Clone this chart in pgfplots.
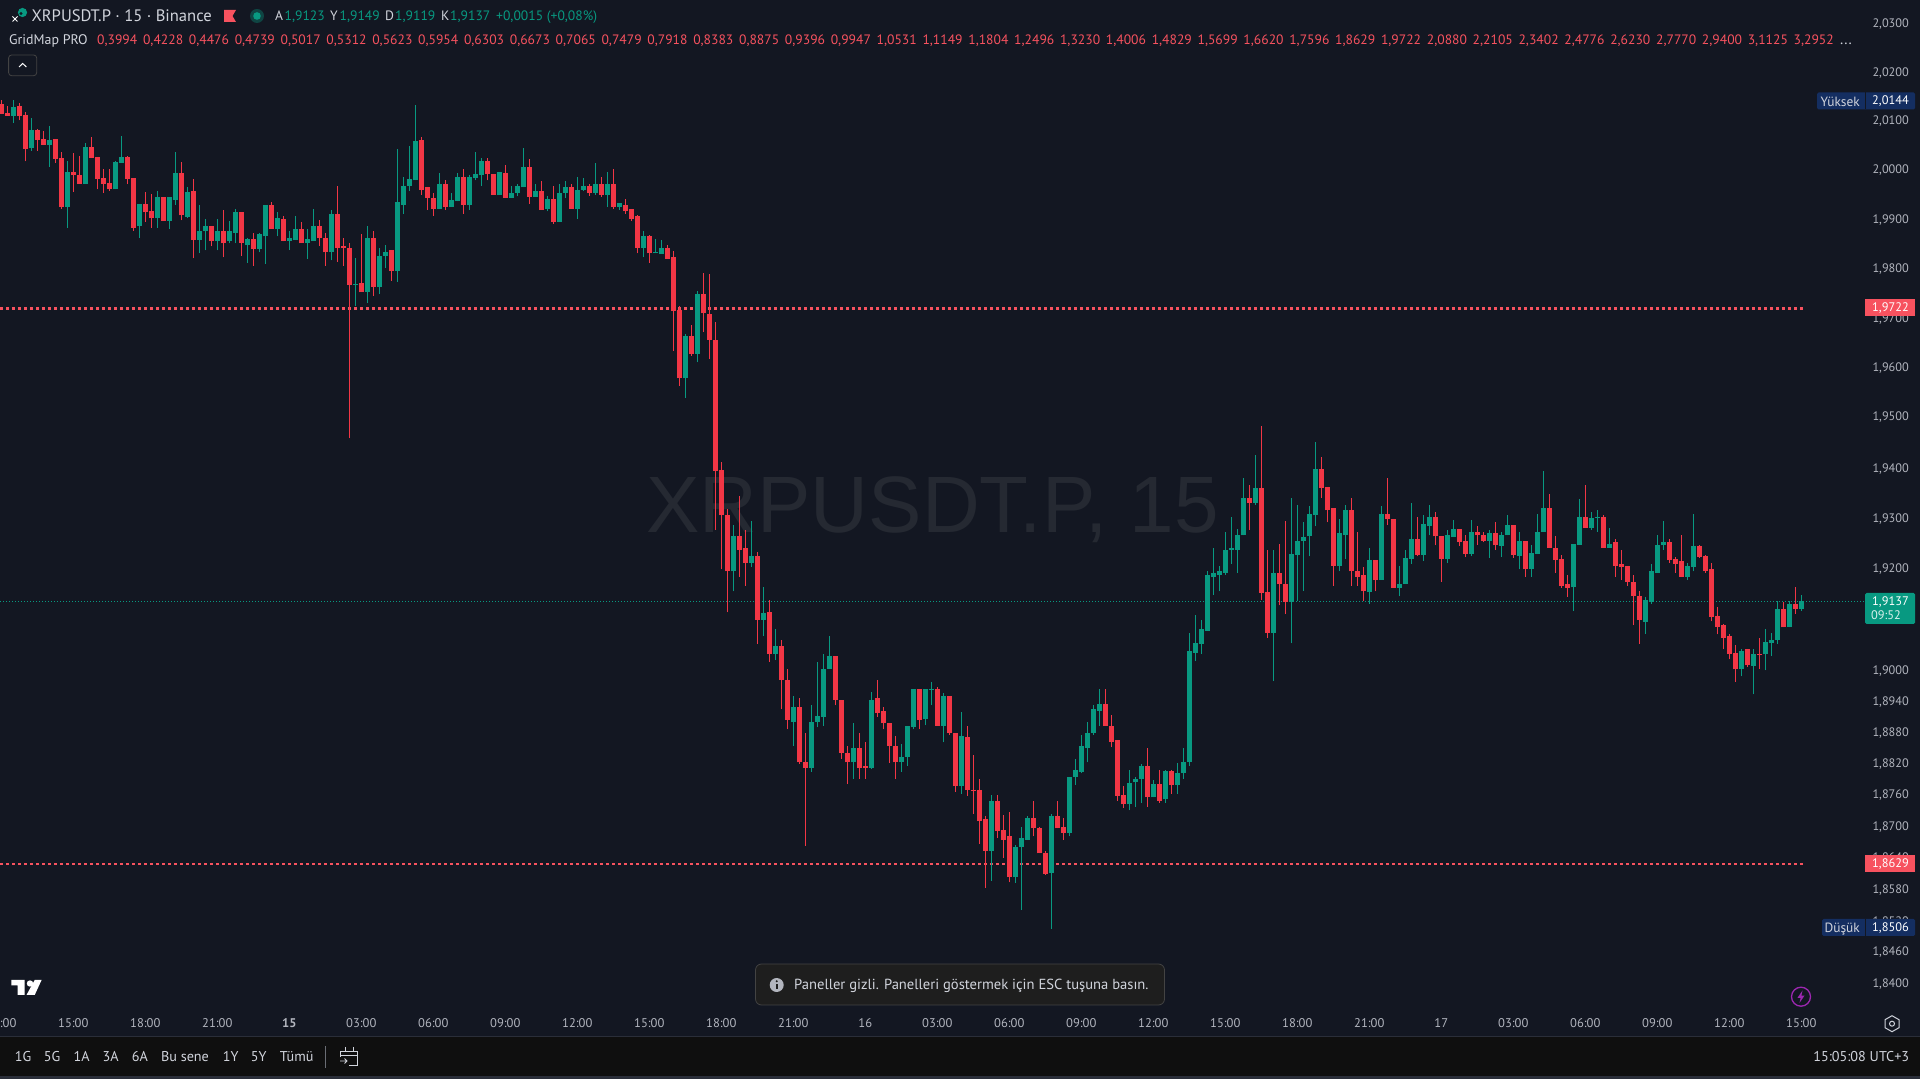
\documentclass[border=0pt]{standalone}
\usepackage{fontspec}
\usepackage{pgfplots}
\usepackage{pgfplotstable}
\pgfplotsset{compat=1.18}
\setmainfont{PT Sans}
\newfontfamily\wmfont{Liberation Sans}
\definecolor{bg}{HTML}{131722}
\definecolor{upc}{HTML}{089981}
\definecolor{downc}{HTML}{F23645}
\definecolor{lblred}{HTML}{F7525F}
\definecolor{ticktxt}{HTML}{B2B5BE}
\definecolor{maintxt}{HTML}{D1D4DC}
\definecolor{navy}{HTML}{142E61}
\definecolor{barbg}{HTML}{0F0F0F}
\definecolor{wmark}{HTML}{252932}
\definecolor{toastbg}{HTML}{1E1E1E}
\definecolor{toastln}{HTML}{434343}
\definecolor{sepln}{HTML}{2A2E39}
\definecolor{bolt}{HTML}{9C27B0}

% 15 minute candles: index, open, high, low, close
\pgfplotstableread{
i o h l c
0 2.0135 2.0143 2.0114 2.0114
1 2.0117 2.0130 2.0111 2.0111
2 2.0111 2.0143 2.0096 2.0129
3 2.0132 2.0137 2.0101 2.0111
4 2.0113 2.0119 2.0017 2.0043
5 2.0044 2.0106 2.0039 2.0082
6 2.0082 2.0084 2.0039 2.0061
7 2.0063 2.0080 2.0050 2.0051
8 2.0051 2.0091 2.0006 2.0061
9 2.0062 2.0063 2.0014 2.0022
10 2.0024 2.0036 1.9922 1.9928
11 1.9928 2.0017 1.9886 1.9997
12 1.9997 2.0034 1.9957 1.9991
13 1.9991 2.0029 1.9973 1.9973
14 1.9973 2.0054 1.9973 2.0047
15 2.0047 2.0068 2.0024 2.0024
16 2.0026 2.0026 1.9964 1.9983
17 1.9985 2.0002 1.9956 1.9975
18 1.9977 2.0002 1.9961 1.9963
19 1.9964 2.0019 1.9963 2.0016
20 2.0014 2.0069 2.0014 2.0026
21 2.0026 2.0029 1.9974 1.9983
22 1.9985 1.9985 1.9879 1.9886
23 1.9888 1.9935 1.9862 1.9935
24 1.9935 1.9957 1.9895 1.9916
25 1.9918 1.9953 1.9886 1.9904
26 1.9904 1.9959 1.9886 1.9947
27 1.9947 1.9947 1.9898 1.9898
28 1.9898 1.9945 1.9880 1.9945
29 1.9943 2.0037 1.9930 1.9995
30 1.9995 2.0016 1.9900 1.9908
31 1.9906 1.9967 1.9904 1.9957
32 1.9959 1.9983 1.9822 1.9861
33 1.9861 1.9930 1.9833 1.9878
34 1.9876 1.9902 1.9837 1.9888
35 1.9888 1.9890 1.9845 1.9857
36 1.9855 1.9902 1.9838 1.9878
37 1.9878 1.9920 1.9825 1.9853
38 1.9855 1.9898 1.9853 1.9876
39 1.9874 1.9922 1.9853 1.9916
40 1.9916 1.9916 1.9829 1.9851
41 1.9849 1.9863 1.9815 1.9859
42 1.9859 1.9873 1.9807 1.9841
43 1.9841 1.9873 1.9835 1.9872
44 1.9867 1.9930 1.9811 1.9930
45 1.9930 1.9937 1.9880 1.9882
46 1.9882 1.9916 1.9867 1.9904
47 1.9902 1.9910 1.9855 1.9857
48 1.9857 1.9876 1.9839 1.9863
49 1.9861 1.9907 1.9861 1.9882
50 1.9880 1.9894 1.9851 1.9853
51 1.9853 1.9880 1.9819 1.9859
52 1.9857 1.9924 1.9857 1.9890
53 1.9890 1.9900 1.9847 1.9863
54 1.9865 1.9873 1.9807 1.9835
55 1.9835 1.9920 1.9817 1.9914
56 1.9914 1.9969 1.9813 1.9843
57 1.9845 1.9865 1.9807 1.9843
58 1.9843 1.9853 1.9460 1.9768
59 1.9768 1.9821 1.9725 1.9770
60 1.9772 1.9870 1.9752 1.9754
61 1.9753 1.9890 1.9733 1.9863
62 1.9863 1.9878 1.9746 1.9764
63 1.9764 1.9842 1.9751 1.9829
64 1.9827 1.9849 1.9804 1.9835
65 1.9837 1.9837 1.9776 1.9796
66 1.9796 2.0043 1.9773 1.9937
67 1.9932 1.9989 1.9913 1.9971
68 1.9971 2.0049 1.9960 1.9983
69 1.9981 2.0133 1.9981 2.0059
70 2.0061 2.0066 1.9952 1.9962
71 1.9967 1.9967 1.9920 1.9944
72 1.9946 1.9954 1.9909 1.9922
73 1.9922 1.9995 1.9922 1.9973
74 1.9973 1.9981 1.9920 1.9928
75 1.9926 1.9954 1.9926 1.9940
76 1.9938 1.9996 1.9938 1.9989
77 1.9989 2.0001 1.9913 1.9930
78 1.9930 1.9991 1.9920 1.9987
79 1.9985 2.0036 1.9981 1.9993
80 1.9991 2.0023 1.9969 2.0018
81 2.0018 2.0023 1.9981 1.9993
82 1.9993 1.9993 1.9952 1.9952
83 1.9952 1.9997 1.9952 1.9997
84 1.9995 2.0010 1.9944 1.9944
85 1.9944 1.9969 1.9944 1.9954
86 1.9954 1.9974 1.9949 1.9969
87 1.9967 2.0044 1.9967 2.0006
88 2.0006 2.0021 1.9935 1.9950
89 1.9950 1.9974 1.9950 1.9958
90 1.9960 1.9979 1.9920 1.9920
91 1.9922 1.9948 1.9918 1.9942
92 1.9942 1.9969 1.9891 1.9895
93 1.9895 1.9974 1.9895 1.9956
94 1.9954 1.9979 1.9944 1.9967
95 1.9967 1.9973 1.9924 1.9924
96 1.9924 1.9989 1.9903 1.9962
97 1.9962 1.9985 1.9958 1.9969
98 1.9969 1.9975 1.9948 1.9956
99 1.9956 2.0014 1.9952 1.9973
100 1.9975 1.9987 1.9950 1.9952
101 1.9952 1.9999 1.9928 1.9973
102 1.9973 2.0001 1.9924 1.9926
103 1.9926 1.9934 1.9920 1.9934
104 1.9932 1.9942 1.9914 1.9918
105 1.9922 1.9924 1.9899 1.9903
106 1.9907 1.9911 1.9830 1.9842
107 1.9842 1.9877 1.9826 1.9867
108 1.9867 1.9869 1.9812 1.9830
109 1.9830 1.9860 1.9830 1.9834
110 1.9832 1.9861 1.9830 1.9842
111 1.9842 1.9848 1.9820 1.9820
112 1.9824 1.9836 1.9636 1.9715
113 1.9717 1.9725 1.9564 1.9578
114 1.9578 1.9669 1.9539 1.9663
115 1.9663 1.9686 1.9624 1.9628
116 1.9628 1.9757 1.9612 1.9751
117 1.9749 1.9794 1.9673 1.9709
118 1.9711 1.9789 1.9620 1.9657
119 1.9659 1.9693 1.9277 1.9394
120 1.9396 1.9414 1.9200 1.9306
121 1.9306 1.9319 1.9113 1.9198
122 1.9198 1.9287 1.9157 1.9263
123 1.9263 1.9346 1.9186 1.9237
124 1.9241 1.9277 1.9168 1.9214
125 1.9214 1.9295 1.9204 1.9226
126 1.9226 1.9234 1.9053 1.9102
127 1.9102 1.9166 1.9069 1.9116
128 1.9114 1.9139 1.9018 1.9034
129 1.9034 1.9084 1.9022 1.9049
130 1.9049 1.9063 1.8927 1.8983
131 1.8985 1.9006 1.8888 1.8905
132 1.8903 1.8952 1.8857 1.8930
133 1.8930 1.8949 1.8821 1.8823
134 1.8823 1.8882 1.8663 1.8814
135 1.8814 1.8932 1.8807 1.8903
136 1.8901 1.9018 1.8892 1.8913
137 1.8911 1.9032 1.8894 1.9004
138 1.9003 1.9067 1.9003 1.9028
139 1.9028 1.9028 1.8932 1.8944
140 1.8946 1.8946 1.8829 1.8840
141 1.8842 1.8857 1.8782 1.8823
142 1.8823 1.8899 1.8793 1.8851
143 1.8851 1.8880 1.8793 1.8814
144 1.8816 1.8861 1.8790 1.8814
145 1.8814 1.8958 1.8810 1.8946
146 1.8946 1.8983 1.8911 1.8921
147 1.8923 1.8930 1.8888 1.8898
148 1.8899 1.8899 1.8822 1.8855
149 1.8857 1.8875 1.8791 1.8823
150 1.8823 1.8859 1.8807 1.8835
151 1.8835 1.8894 1.8817 1.8894
152 1.8892 1.8964 1.8888 1.8964
153 1.8964 1.8964 1.8888 1.8907
154 1.8909 1.8965 1.8896 1.8965
155 1.8964 1.8979 1.8934 1.8966
156 1.8965 1.8970 1.8894 1.8894
157 1.8894 1.8960 1.8861 1.8950
158 1.8950 1.8950 1.8878 1.8880
159 1.8882 1.8882 1.8768 1.8778
160 1.8776 1.8919 1.8765 1.8875
161 1.8873 1.8894 1.8759 1.8770
162 1.8772 1.8838 1.8724 1.8770
163 1.8770 1.8791 1.8669 1.8711
164 1.8713 1.8720 1.8583 1.8652
165 1.8652 1.8760 1.8596 1.8749
166 1.8749 1.8760 1.8678 1.8692
167 1.8694 1.8722 1.8640 1.8676
168 1.8680 1.8728 1.8594 1.8602
169 1.8602 1.8665 1.8592 1.8661
170 1.8659 1.8701 1.8541 1.8678
171 1.8676 1.8720 1.8673 1.8717
172 1.8717 1.8749 1.8680 1.8697
173 1.8697 1.8701 1.8648 1.8648
174 1.8650 1.8655 1.8608 1.8610
175 1.8612 1.8726 1.8506 1.8719
176 1.8719 1.8749 1.8697 1.8697
177 1.8699 1.8717 1.8676 1.8688
178 1.8688 1.8797 1.8680 1.8797
179 1.8797 1.8832 1.8780 1.8809
180 1.8807 1.8878 1.8801 1.8855
181 1.8851 1.8901 1.8823 1.8882
182 1.8880 1.8932 1.8876 1.8925
183 1.8923 1.8965 1.8894 1.8936
184 1.8936 1.8967 1.8894 1.8894
185 1.8894 1.8915 1.8853 1.8863
186 1.8865 1.8865 1.8749 1.8759
187 1.8760 1.8776 1.8736 1.8743
188 1.8743 1.8809 1.8730 1.8786
189 1.8784 1.8795 1.8738 1.8791
190 1.8790 1.8820 1.8747 1.8816
191 1.8816 1.8851 1.8738 1.8755
192 1.8757 1.8788 1.8757 1.8782
193 1.8782 1.8809 1.8747 1.8749
194 1.8751 1.8809 1.8747 1.8805
195 1.8805 1.8809 1.8765 1.8780
196 1.8780 1.8822 1.8765 1.8803
197 1.8801 1.8851 1.8790 1.8823
198 1.8823 1.9077 1.8817 1.9040
199 1.9038 1.9110 1.9020 1.9055
200 1.9053 1.9102 1.9034 1.9081
201 1.9079 1.9198 1.9079 1.9188
202 1.9186 1.9241 1.9151 1.9191
203 1.9190 1.9208 1.9157 1.9196
204 1.9194 1.9275 1.9188 1.9237
205 1.9237 1.9302 1.9212 1.9241
206 1.9239 1.9279 1.9191 1.9269
207 1.9267 1.9380 1.9267 1.9340
208 1.9340 1.9366 1.9277 1.9332
209 1.9330 1.9428 1.9326 1.9360
210 1.9360 1.9482 1.9141 1.9153
211 1.9155 1.9237 1.9065 1.9077
212 1.9077 1.9237 1.8981 1.9194
213 1.9192 1.9251 1.9127 1.9170
214 1.9172 1.9295 1.9112 1.9135
215 1.9135 1.9340 1.9055 1.9230
216 1.9228 1.9326 1.9137 1.9257
217 1.9255 1.9291 1.9159 1.9265
218 1.9263 1.9324 1.9226 1.9310
219 1.9308 1.9452 1.9285 1.9400
220 1.9400 1.9422 1.9340 1.9360
221 1.9362 1.9362 1.9291 1.9318
222 1.9320 1.9320 1.9167 1.9206
223 1.9206 1.9299 1.9196 1.9271
224 1.9269 1.9328 1.9220 1.9318
225 1.9318 1.9340 1.9167 1.9196
226 1.9198 1.9275 1.9167 1.9186
227 1.9188 1.9204 1.9137 1.9157
228 1.9155 1.9243 1.9131 1.9218
229 1.9218 1.9218 1.9157 1.9178
230 1.9178 1.9324 1.9178 1.9310
231 1.9310 1.9382 1.9287 1.9299
232 1.9299 1.9299 1.9163 1.9163
233 1.9163 1.9206 1.9145 1.9172
234 1.9170 1.9239 1.9170 1.9222
235 1.9220 1.9330 1.9212 1.9259
236 1.9259 1.9304 1.9226 1.9228
237 1.9228 1.9308 1.9216 1.9289
238 1.9285 1.9326 1.9269 1.9304
239 1.9304 1.9314 1.9247 1.9263
240 1.9263 1.9263 1.9174 1.9220
241 1.9220 1.9277 1.9214 1.9267
242 1.9265 1.9297 1.9265 1.9279
243 1.9279 1.9279 1.9245 1.9253
244 1.9255 1.9267 1.9224 1.9231
245 1.9231 1.9297 1.9226 1.9273
246 1.9273 1.9285 1.9249 1.9267
247 1.9269 1.9273 1.9253 1.9257
248 1.9257 1.9277 1.9222 1.9271
249 1.9271 1.9293 1.9239 1.9247
250 1.9245 1.9273 1.9224 1.9269
251 1.9267 1.9306 1.9267 1.9287
252 1.9287 1.9287 1.9222 1.9228
253 1.9226 1.9273 1.9200 1.9255
254 1.9257 1.9257 1.9186 1.9200
255 1.9200 1.9249 1.9186 1.9233
256 1.9231 1.9310 1.9231 1.9275
257 1.9273 1.9394 1.9273 1.9320
258 1.9320 1.9348 1.9241 1.9241
259 1.9241 1.9263 1.9194 1.9218
260 1.9220 1.9228 1.9163 1.9168
261 1.9170 1.9188 1.9147 1.9164
262 1.9165 1.9251 1.9118 1.9251
263 1.9249 1.9338 1.9249 1.9304
264 1.9304 1.9366 1.9281 1.9283
265 1.9283 1.9312 1.9277 1.9301
266 1.9301 1.9318 1.9273 1.9304
267 1.9304 1.9306 1.9243 1.9243
268 1.9243 1.9283 1.9243 1.9251
269 1.9253 1.9261 1.9184 1.9208
270 1.9210 1.9239 1.9178 1.9204
271 1.9206 1.9206 1.9168 1.9174
272 1.9176 1.9188 1.9090 1.9145
273 1.9145 1.9159 1.9053 1.9100
274 1.9098 1.9147 1.9073 1.9139
275 1.9135 1.9212 1.9131 1.9196
276 1.9194 1.9269 1.9192 1.9249
277 1.9247 1.9295 1.9239 1.9253
278 1.9253 1.9261 1.9214 1.9218
279 1.9220 1.9224 1.9194 1.9212
280 1.9216 1.9267 1.9184 1.9184
281 1.9184 1.9214 1.9178 1.9206
282 1.9204 1.9310 1.9198 1.9245
283 1.9245 1.9249 1.9222 1.9224
284 1.9226 1.9228 1.9194 1.9198
285 1.9200 1.9214 1.9096 1.9106
286 1.9108 1.9125 1.9071 1.9088
287 1.9090 1.9092 1.9042 1.9065
288 1.9067 1.9071 1.9024 1.9034
289 1.9036 1.9051 1.8979 1.9004
290 1.9004 1.9045 1.8991 1.9040
291 1.9042 1.9042 1.9008 1.9010
292 1.9012 1.9045 1.8956 1.9034
293 1.9034 1.9065 1.9006 1.9032
294 1.9032 1.9081 1.9002 1.9057
295 1.9055 1.9075 1.9030 1.9061
296 1.9061 1.9137 1.9053 1.9121
297 1.9121 1.9135 1.9086 1.9086
298 1.9088 1.9137 1.9086 1.9131
299 1.9133 1.9166 1.9112 1.9121
300 1.9123 1.9149 1.9119 1.9137
}\candles

\tikzset{
  txt/.style={inner sep=0pt, anchor=base west},
  txtr/.style={inner sep=0pt, anchor=base east},
  txtc/.style={inner sep=0pt, anchor=base},
}
\pgfplotsset{
  wick/.style={draw=none, mark=none, forget plot,
    error bars/.cd, y dir=plus, y explicit, error mark=none,
    error bar style={#1, solid, line width=1pt, line cap=butt}},
  body/.style={draw=none, mark=none, forget plot,
    error bars/.cd, y dir=plus, y explicit, error mark=none,
    error bar style={#1, solid, line width=5pt, line cap=butt}},
}

\begin{document}
\begin{tikzpicture}
\path[use as bounding box] (0,0) rectangle (1920pt,1079pt);
\fill[bg] (0,0) rectangle (1920pt,1079pt);

\begin{scope}[x=1pt,y=-1pt,shift={(0pt,1079pt)}]
  \node[txtc, text=wmark, font=\wmfont\fontsize{80}{84}\selectfont] at (932.5,533) {XRPUSDT.P, 15};
\end{scope}

\begin{axis}[
  at={(0pt,0.8pt)}, anchor=south west,
  scale only axis, width=1920pt, height=1079pt,
  ymode=log,
  xmin=-0.2167, xmax=319.78,
  ymin=1.82224, ymax=2.03530,
  axis line style={draw=none},
  tick style={draw=none},
  ytick pos=right,
  yticklabel pos=right,
  ytick={2.03,2.02,2.01,2.00,1.99,1.98,1.97,1.96,1.95,1.94,1.93,1.92,1.90,1.894,1.888,1.882,1.876,1.87,1.864,1.858,1.852,1.846,1.84},
  yticklabels={{2,0300},{2,0200},{2,0100},{2,0000},{1,9900},{1,9800},{1,9700},{1,9600},{1,9500},{1,9400},{1,9300},{1,9200},{1,9000},{1,8940},{1,8880},{1,8820},{1,8760},{1,8700},{1,8640},{1,8580},{1,8520},{1,8460},{1,8400}},
  y tick label style={anchor=east, xshift=-11pt, text=ticktxt, font=\fontsize{12.3}{14}\selectfont, inner sep=0pt},
  xtick={0,12,...,300},
  xticklabels={12:00,15:00,18:00,21:00,\textbf{15},03:00,06:00,09:00,12:00,15:00,18:00,21:00,16,03:00,06:00,09:00,12:00,15:00,18:00,21:00,17,03:00,06:00,09:00,12:00,15:00},
  x tick label style={anchor=center, yshift=55pt, text=ticktxt, font=\fontsize{12.6}{14}\selectfont, inner sep=0pt},
]
\addplot[lblred, line width=2.6pt, dash pattern=on 2.6pt off 3.4pt, forget plot] coordinates {(-0.1667,1.9722) (300.2,1.9722)};
\addplot[lblred, line width=2.6pt, dash pattern=on 2.6pt off 3.4pt, forget plot] coordinates {(-0.1667,1.8629) (300.2,1.8629)};
\addplot[upc, line width=0.8pt, dash pattern=on 1pt off 2pt, forget plot] coordinates {(-0.2,1.9137) (310.6,1.9137)};

\addplot[wick=upc] table[x expr={\thisrow{c}>=\thisrow{o} ? \thisrow{i} : nan}, y=l, y error plus expr=\thisrow{h}-\thisrow{l}] {\candles};
\addplot[wick=downc] table[x expr={\thisrow{c}<\thisrow{o} ? \thisrow{i} : nan}, y=l, y error plus expr=\thisrow{h}-\thisrow{l}] {\candles};
\addplot[body=upc] table[x expr={\thisrow{c}>=\thisrow{o} ? \thisrow{i} : nan}, y=o, y error plus expr={max(\thisrow{c}-\thisrow{o},0.0002)}] {\candles};
\addplot[body=downc] table[x expr={\thisrow{c}<\thisrow{o} ? \thisrow{i} : nan}, y=c, y error plus expr={max(\thisrow{o}-\thisrow{c},0.0002)}] {\candles};
\end{axis}

\begin{scope}[x=1pt,y=-1pt,shift={(0pt,1079pt)}]
  % legend lines at the top
  \fill[upc] (22.5,12.5) circle (4.6);
  \fill[bg] (21,13.5) circle (1.6);
  \draw[white, line width=0.9pt] (12.5,16.5) -- (17.5,21.5) (12.5,21.5) -- (17.5,16.5);
  \node[txt, text=maintxt, font=\fontsize{16.6}{18}\selectfont] at (31.4,22) {XRPUSDT.P · 15 · Binance};
  \fill[lblred] (224,10) -- (236,10) -- (232.5,16) -- (236,22) -- (224,22) -- cycle;
  \fill[upc!35!bg] (257,16) circle (7);
  \fill[upc] (257,16) circle (3.8);
  \begin{scope}[every node/.style={txt, font=\fontsize{13.6}{15}\selectfont}]
    \node[text=maintxt] at (275,21) {A};
    \node[text=upc] at (284.5,21) {1,9123};
    \node[text=maintxt] at (330,21) {Y};
    \node[text=upc] at (339.5,21) {1,9149};
    \node[text=maintxt] at (385,21) {D};
    \node[text=upc] at (395,21) {1,9119};
    \node[text=maintxt] at (441,21) {K};
    \node[text=upc] at (450,21) {1,9137};
    \node[text=upc] at (496,21) {+0,0015 (+0,08\%)};
    \node[text=maintxt, font=\fontsize{13.9}{16}\selectfont] at (9,45) {GridMap PRO};
    \foreach \v [count=\k from 0] in {{0,3994},{0,4228},{0,4476},{0,4739},{0,5017},{0,5312},{0,5623},{0,5954},{0,6303},{0,6673},{0,7065},{0,7479},{0,7918},{0,8383},{0,8875},{0,9396},{0,9947},{1,0531},{1,1149},{1,1804},{1,2496},{1,3230},{1,4006},{1,4829},{1,5699},{1,6620},{1,7596},{1,8629},{1,9722},{2,0880},{2,2105},{2,3402},{2,4776},{2,6230},{2,7770},{2,9400},{3,1125},{3,2952}}
      \node[text=lblred] at ({97+45.85*\k},45) {\v};
    \node[text=maintxt, font=\fontsize{15}{16}\selectfont] at (1840,45) {...};
  \end{scope}
  \draw[toastln, rounded corners=3pt, line width=0.8pt] (8.6,55) rectangle (36.7,75.7);
  \draw[white, line width=1pt] (19,67) -- (22.7,63.5) -- (26.4,67);

  % price labels
  \begin{scope}[every node/.style={txtr, font=\fontsize{12.4}{14}\selectfont}]
    \fill[navy, rounded corners=1.5pt] (1817,92.5) rectangle (1915,109.5);
    \draw[bg, line width=0.6pt] (1865,92.5) -- (1865,109.5);
    \node[text=maintxt, font=\fontsize{13.4}{15}\selectfont] at (1860,107) {Yüksek};
    \node[text=white] at (1909,105) {2,0144};
    \fill[lblred] (1865,299) rectangle (1915,316);
    \node[text=white] at (1909,312) {1,9722};
    \fill[upc, rounded corners=1.5pt] (1865,593) rectangle (1915,624);
    \node[text=white] at (1909,606) {1,9137};
    \node[text=white!85!upc] at (1901,619.5) {09:52};
    \fill[lblred] (1865,855) rectangle (1915,872);
    \node[text=white] at (1909,868) {1,8629};
    \fill[navy, rounded corners=1.5pt] (1822,919) rectangle (1915,936);
    \draw[bg, line width=0.6pt] (1865,919) -- (1865,936);
    \node[text=maintxt, font=\fontsize{13.4}{15}\selectfont] at (1860,933) {Düşük};
    \node[text=white] at (1909,932) {1,8506};
  \end{scope}

  % logo
  \fill[white] (11.4,980) -- (24.5,980) -- (24.5,995) -- (17.5,995) -- (17.5,985.5) -- (11.4,985.5) -- cycle;
  \fill[white] (30,983.5) circle (3.2);
  \fill[white] (34.7,980) -- (41.6,980) -- (34.7,995) -- (26.5,995) -- cycle;

  % hint
  \fill[toastbg, rounded corners=6pt] (755.5,964) rectangle (1164.5,1005);
  \draw[toastln, rounded corners=6pt, line width=0.8pt] (755.5,964) rectangle (1164.5,1005);
  \fill[ticktxt] (776.7,985) circle (7);
  \fill[toastbg] (776.7,981.2) circle (1.1);
  \fill[toastbg] (775.8,983.6) rectangle (777.6,989.4);
  \node[txt, text=maintxt, font=\fontsize{14.6}{16}\selectfont] at (794,990) {Paneller gizli. Panelleri göstermek için ESC tuşuna basın.};

  % small icons
  \draw[bolt, line width=1.3pt] (1801,996.7) circle (9.5);
  \fill[bolt] (1802.5,990.5) -- (1797.5,997.8) -- (1800.6,997.8) -- (1799.5,1002.9) -- (1804.5,995.6) -- (1801.4,995.6) -- cycle;
  \draw[maintxt, line width=1pt] (1892,1015.7) -- (1899,1019.7) -- (1899,1027.7) -- (1892,1031.7) -- (1885,1027.7) -- (1885,1019.7) -- cycle;
  \draw[maintxt, line width=1pt] (1892,1023.7) circle (2.5);

  % bottom bar
  \fill[barbg] (0,1037) rectangle (1920,1079);
  \fill[sepln] (0,1076) rectangle (1920,1079);
  \draw[sepln, line width=1pt] (0,1037) -- (1920,1037);
  \begin{scope}[every node/.style={txtc, text=maintxt, font=\fontsize{14.2}{16}\selectfont}]
    \node at (23,1062) {1G};
    \node at (52,1062) {5G};
    \node at (81.6,1062) {1A};
    \node at (110.6,1062) {3A};
    \node at (140,1062) {6A};
    \node at (185,1062) {Bu sene};
    \node at (230.6,1062) {1Y};
    \node at (258.8,1062) {5Y};
    \node at (296.7,1062) {Tümü};
  \end{scope}
  \draw[sepln!70!white, line width=0.8pt] (325.3,1046) -- (325.3,1068);
  \begin{scope}[maintxt, line width=0.9pt]
    \draw (340,1057) -- (340,1051) -- (357.5,1051) -- (357.5,1065) -- (349,1065);
    \draw (340,1055) -- (357.5,1055);
    \draw (345,1047) -- (345,1051) (353,1047) -- (353,1051);
    \draw (340,1061) -- (347,1061) (344.5,1058.5) -- (347,1061) -- (344.5,1063.5);
  \end{scope}
  \node[txtr, text=maintxt, font=\fontsize{14.2}{16}\selectfont] at (1909.4,1062) {15:05:08 UTC+3};
\end{scope}
\end{tikzpicture}
\end{document}
